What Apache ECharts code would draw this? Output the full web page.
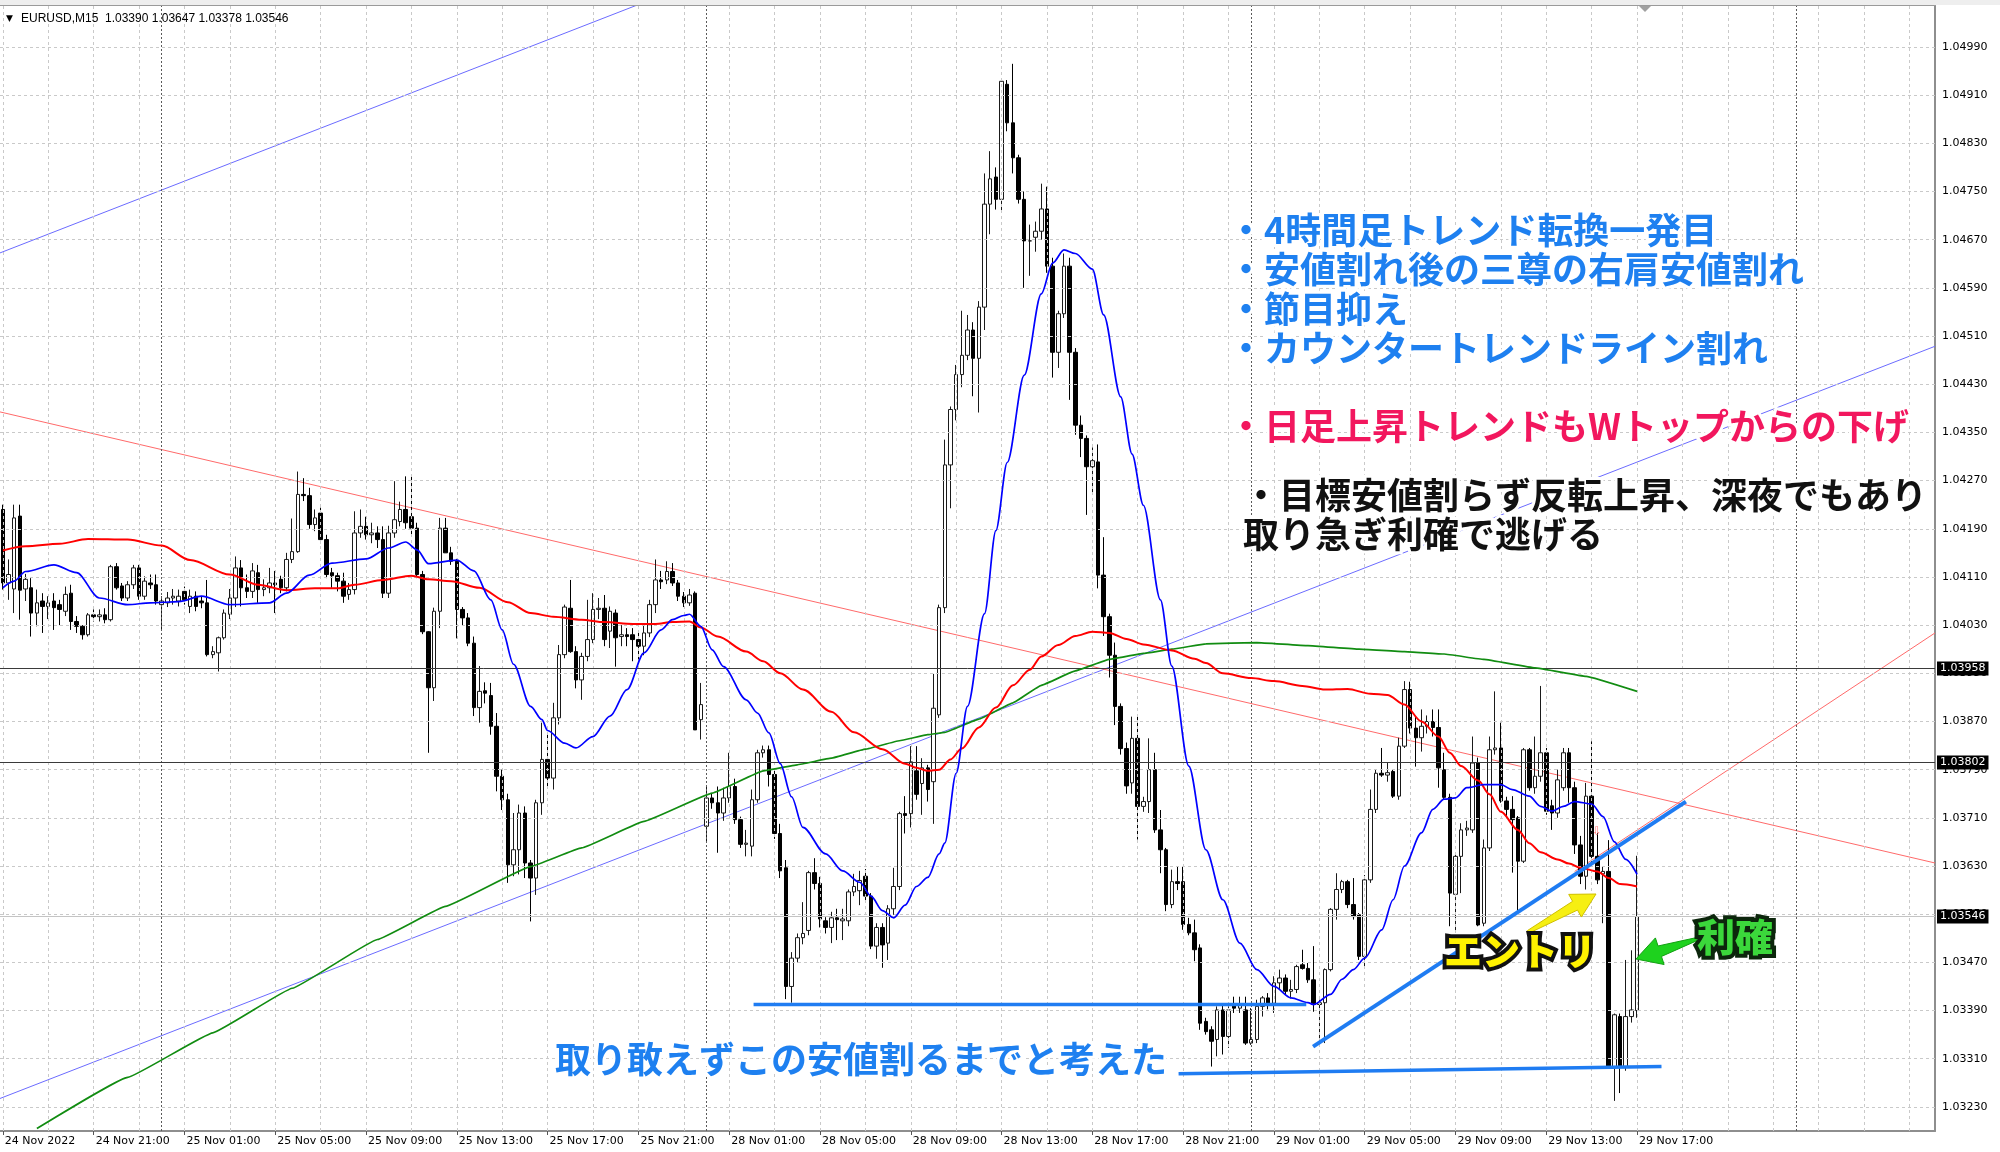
<!DOCTYPE html>
<html><head><meta charset="utf-8">
<script src="https://cdn.jsdelivr.net/npm/echarts@6/dist/echarts.min.js"></script>
<style>html,body{margin:0;padding:0;background:#fff;}#c{width:2000px;height:1152px;}</style>
</head><body><div id="c"></div>
<script>
const symbolName = 'EURUSD,M15';

const openP = [
1.04222,1.04100,1.04090,1.04211,1.04090,1.04092,1.04050,1.04070,1.04061,1.04070,
1.04064,1.04053,1.04083,1.04036,1.04028,1.04014,1.04047,1.04044,1.04047,1.04039,
1.04127,1.04095,1.04075,1.04097,1.04125,1.04078,1.04100,1.04097,1.04064,1.04067,
1.04075,1.04070,1.04086,1.04061,1.04078,1.04070,1.04067,1.03981,1.03984,1.04009,
1.04048,1.04075,1.04125,1.04092,1.04086,1.04117,1.04089,1.04092,1.04100,1.04106,
1.04092,1.04139,1.04152,1.04247,1.04245,1.04197,1.04216,1.04172,1.04117,1.04112,
1.04103,1.04081,1.04089,1.04183,1.04194,1.04180,1.04183,1.04172,1.04083,1.04183,
1.04202,1.04222,1.04210,1.04191,1.04114,1.04019,1.03926,1.04053,1.04191,1.04150,
1.04136,1.04056,1.04042,1.04000,1.03893,1.03921,1.03913,1.03862,1.03779,1.03740,
1.03632,1.03657,1.03718,1.03635,1.03610,1.03735,1.03807,1.03776,1.03876,1.03981,
1.04058,1.03986,1.03939,1.03978,1.04006,1.04056,1.04058,1.04020,1.04050,1.04011,
1.04014,1.04014,1.04006,1.03995,1.04017,1.04064,1.04105,1.04105,1.04119,1.04100,
1.04078,1.04067,1.04083,1.03873,1.03696,1.03743,1.03735,1.03718,1.03743,1.03762,
1.03707,1.03666,1.03663,1.03740,1.03818,1.03823,1.03782,1.03684,1.03627,1.03430,
1.03477,1.03511,1.03523,1.03619,1.03601,1.03539,1.03528,1.03544,1.03539,1.03539,
1.03587,1.03589,1.03613,1.03580,1.03497,1.03528,1.03502,1.03559,1.03596,1.03717,
1.03717,1.03788,1.03767,1.03793,1.03770,1.03881,1.04059,1.04296,1.04388,1.04446,
1.04478,1.04520,1.04473,1.04558,1.04729,1.04774,1.04737,1.04928,1.04864,1.04806,
1.04737,1.04668,1.04674,1.04684,1.04721,1.04626,1.04483,1.04547,1.04626,1.04483,
1.04362,1.04340,1.04293,1.04301,1.04113,1.04044,1.03980,1.03895,1.03825,1.03768,
1.03842,1.03729,1.03737,1.03790,1.03690,1.03657,1.03566,1.03604,1.03604,1.03533,
1.03519,1.03494,1.03372,1.03358,1.03342,1.03391,1.03347,1.03399,1.03394,1.03391,
1.03336,1.03342,1.03397,1.03411,1.03402,1.03436,1.03444,1.03422,1.03425,1.03466,
1.03460,1.03441,1.03400,1.03403,1.03458,1.03558,1.03591,1.03604,1.03566,1.03549,
1.03480,1.03607,1.03724,1.03784,1.03781,1.03787,1.03746,1.03829,1.03923,1.03859,
1.03843,1.03862,1.03870,1.03860,1.03790,1.03744,1.03583,1.03646,1.03690,1.03690,
1.03801,1.03535,1.03660,1.03823,1.03826,1.03738,1.03724,1.03710,1.03638,1.03823,
1.03760,1.03779,1.03818,1.03730,1.03718,1.03760,1.03818,1.03760,1.03665,1.03613,
1.03746,1.03646,1.03617,1.03621,1.03297,1.03380,1.03297,1.03380,1.03390];

const highP = [
1.04230,1.04139,1.04230,1.04230,1.04115,1.04108,1.04089,1.04083,1.04078,1.04083,
1.04072,1.04094,1.04097,1.04045,1.04030,1.04050,1.04056,1.04056,1.04058,1.04130,
1.04133,1.04100,1.04103,1.04130,1.04130,1.04111,1.04114,1.04114,1.04078,1.04085,
1.04090,1.04089,1.04094,1.04089,1.04086,1.04078,1.04105,1.03995,1.04011,1.04056,
1.04090,1.04144,1.04138,1.04114,1.04133,1.04130,1.04106,1.04125,1.04120,1.04112,
1.04150,1.04207,1.04285,1.04274,1.04258,1.04222,1.04225,1.04180,1.04125,1.04117,
1.04117,1.04100,1.04219,1.04222,1.04210,1.04200,1.04194,1.04194,1.04195,1.04269,
1.04235,1.04277,1.04277,1.04200,1.04120,1.04020,1.04059,1.04208,1.04208,1.04160,
1.04140,1.04060,1.04050,1.04011,1.03962,1.03935,1.03934,1.03884,1.03790,1.03750,
1.03718,1.03732,1.03729,1.03640,1.03740,1.03868,1.03851,1.03901,1.03997,1.04064,
1.04105,1.03995,1.03984,1.04072,1.04083,1.04075,1.04080,1.04061,1.04056,1.04030,
1.04025,1.04025,1.04017,1.04030,1.04072,1.04139,1.04120,1.04136,1.04133,1.04105,
1.04085,1.04090,1.04086,1.03934,1.03762,1.03750,1.03762,1.03760,1.03818,1.03775,
1.03712,1.03690,1.03757,1.03823,1.03830,1.03830,1.03790,1.03700,1.03640,1.03487,
1.03518,1.03570,1.03622,1.03643,1.03612,1.03545,1.03554,1.03559,1.03559,1.03591,
1.03617,1.03622,1.03625,1.03585,1.03535,1.03535,1.03565,1.03627,1.03720,1.03746,
1.03829,1.03829,1.03809,1.03798,1.03949,1.04064,1.04338,1.04393,1.04462,1.04552,
1.04545,1.04533,1.04568,1.04780,1.04817,1.04790,1.04938,1.04935,1.04962,1.04811,
1.04750,1.04695,1.04700,1.04763,1.04758,1.04640,1.04552,1.04647,1.04640,1.04490,
1.04378,1.04345,1.04325,1.04330,1.04176,1.04049,1.04001,1.03900,1.03835,1.03878,
1.03878,1.03745,1.03842,1.03818,1.03723,1.03660,1.03624,1.03629,1.03629,1.03544,
1.03541,1.03500,1.03378,1.03364,1.03397,1.03402,1.03397,1.03413,1.03413,1.03413,
1.03394,1.03408,1.03414,1.03419,1.03447,1.03458,1.03450,1.03441,1.03466,1.03491,
1.03469,1.03497,1.03408,1.03460,1.03560,1.03618,1.03607,1.03607,1.03610,1.03552,
1.03615,1.03757,1.03790,1.03826,1.03801,1.03790,1.03843,1.03937,1.03936,1.03879,
1.03890,1.03880,1.03890,1.03890,1.03818,1.03750,1.03652,1.03701,1.03705,1.03845,
1.03810,1.03674,1.03845,1.03920,1.03868,1.03745,1.03746,1.03713,1.03826,1.03826,
1.03845,1.03929,1.03826,1.03740,1.03790,1.03826,1.03826,1.03770,1.03680,1.03768,
1.03837,1.03685,1.03630,1.03673,1.03385,1.03385,1.03474,1.03490,1.03647];

const lowP = [
1.04089,1.04072,1.04050,1.04039,1.04070,1.04011,1.04028,1.04017,1.04040,1.04022,
1.04030,1.04045,1.04022,1.04017,1.04006,1.04011,1.04036,1.04036,1.04033,1.04036,
1.04089,1.04070,1.04070,1.04090,1.04072,1.04072,1.04090,1.04064,1.04022,1.04060,
1.04064,1.04061,1.04064,1.04050,1.04053,1.04058,1.03978,1.03975,1.03953,1.04006,
1.04040,1.04060,1.04061,1.04075,1.04075,1.04067,1.04078,1.04083,1.04050,1.04083,
1.04086,1.04133,1.04150,1.04236,1.04190,1.04186,1.04166,1.04108,1.04092,1.04086,
1.04067,1.04072,1.04081,1.04175,1.04172,1.04166,1.04158,1.04075,1.04075,1.04175,
1.04194,1.04190,1.04180,1.04108,1.04015,1.03818,1.03904,1.04025,1.04150,1.04130,
1.04008,1.04030,1.03995,1.03879,1.03868,1.03900,1.03848,1.03754,1.03723,1.03602,
1.03613,1.03616,1.03610,1.03538,1.03582,1.03715,1.03762,1.03757,1.03865,1.03975,
1.03984,1.03925,1.03906,1.03970,1.04000,1.04040,1.03995,1.03992,1.03961,1.03995,
1.03995,1.03970,1.03973,1.03980,1.04010,1.04050,1.04090,1.04098,1.04095,1.04070,
1.04060,1.04062,1.03856,1.03840,1.03670,1.03725,1.03652,1.03705,1.03735,1.03700,
1.03660,1.03646,1.03646,1.03735,1.03810,1.03762,1.03675,1.03610,1.03409,1.03403,
1.03470,1.03500,1.03515,1.03591,1.03528,1.03518,1.03502,1.03507,1.03507,1.03530,
1.03580,1.03565,1.03570,1.03492,1.03476,1.03461,1.03474,1.03549,1.03590,1.03684,
1.03694,1.03740,1.03715,1.03737,1.03700,1.03876,1.04050,1.04224,1.04370,1.04425,
1.04470,1.04410,1.04383,1.04520,1.04679,1.04720,1.04716,1.04850,1.04780,1.04730,
1.04590,1.04610,1.04650,1.04670,1.04615,1.04441,1.04457,1.04540,1.04404,1.04346,
1.04309,1.04213,1.04250,1.04091,1.04012,1.03943,1.03864,1.03815,1.03750,1.03750,
1.03674,1.03720,1.03718,1.03685,1.03618,1.03555,1.03560,1.03590,1.03524,1.03515,
1.03472,1.03358,1.03350,1.03297,1.03314,1.03317,1.03328,1.03386,1.03386,1.03333,
1.03333,1.03336,1.03380,1.03392,1.03386,1.03425,1.03416,1.03410,1.03419,1.03458,
1.03436,1.03388,1.03331,1.03336,1.03455,1.03541,1.03585,1.03560,1.03541,1.03474,
1.03463,1.03602,1.03718,1.03778,1.03770,1.03743,1.03740,1.03826,1.03850,1.03795,
1.03820,1.03850,1.03845,1.03760,1.03740,1.03530,1.03519,1.03585,1.03680,1.03685,
1.03530,1.03530,1.03655,1.03815,1.03735,1.03710,1.03619,1.03552,1.03635,1.03755,
1.03750,1.03770,1.03715,1.03690,1.03710,1.03755,1.03735,1.03650,1.03600,1.03591,
1.03635,1.03600,1.03535,1.03297,1.03240,1.03253,1.03290,1.03370,1.03378];

const closeP = [
1.04100,1.04114,1.04208,1.04088,1.04106,1.04050,1.04067,1.04061,1.04067,1.04059,
1.04056,1.04081,1.04036,1.04028,1.04014,1.04047,1.04044,1.04047,1.04039,1.04127,
1.04092,1.04075,1.04097,1.04125,1.04078,1.04103,1.04097,1.04070,1.04070,1.04075,
1.04078,1.04078,1.04072,1.04078,1.04061,1.04067,1.03981,1.03986,1.04009,1.04050,
1.04075,1.04125,1.04092,1.04086,1.04120,1.04089,1.04092,1.04100,1.04097,1.04092,
1.04139,1.04152,1.04247,1.04245,1.04197,1.04208,1.04172,1.04114,1.04112,1.04103,
1.04078,1.04089,1.04183,1.04194,1.04180,1.04183,1.04172,1.04083,1.04183,1.04205,
1.04222,1.04200,1.04191,1.04114,1.04019,1.03926,1.04053,1.04191,1.04150,1.04136,
1.04056,1.04042,1.04000,1.03893,1.03920,1.03917,1.03862,1.03779,1.03740,1.03632,
1.03657,1.03718,1.03635,1.03610,1.03735,1.03807,1.03776,1.03876,1.03981,1.04060,
1.03986,1.03939,1.03978,1.04006,1.04056,1.04058,1.04006,1.04053,1.04009,1.04014,
1.04011,1.04006,1.03995,1.04017,1.04064,1.04105,1.04102,1.04119,1.04100,1.04078,
1.04067,1.04080,1.03856,1.03898,1.03743,1.03735,1.03718,1.03743,1.03762,1.03707,
1.03666,1.03668,1.03740,1.03818,1.03823,1.03782,1.03684,1.03622,1.03430,1.03477,
1.03511,1.03518,1.03619,1.03601,1.03542,1.03528,1.03544,1.03541,1.03542,1.03587,
1.03596,1.03606,1.03580,1.03497,1.03528,1.03499,1.03559,1.03596,1.03717,1.03714,
1.03803,1.03749,1.03793,1.03757,1.03892,1.04059,1.04296,1.04388,1.04446,1.04478,
1.04520,1.04473,1.04558,1.04729,1.04771,1.04737,1.04933,1.04864,1.04806,1.04737,
1.04668,1.04668,1.04684,1.04721,1.04626,1.04483,1.04547,1.04626,1.04483,1.04362,
1.04340,1.04293,1.04303,1.04113,1.04044,1.03980,1.03895,1.03825,1.03763,1.03842,
1.03729,1.03737,1.03790,1.03690,1.03657,1.03566,1.03604,1.03601,1.03533,1.03519,
1.03491,1.03369,1.03355,1.03339,1.03391,1.03347,1.03391,1.03394,1.03400,1.03336,
1.03342,1.03397,1.03411,1.03402,1.03436,1.03444,1.03422,1.03425,1.03463,1.03460,
1.03441,1.03400,1.03403,1.03458,1.03558,1.03591,1.03604,1.03566,1.03546,1.03480,
1.03607,1.03724,1.03784,1.03781,1.03785,1.03746,1.03829,1.03923,1.03859,1.03843,
1.03862,1.03870,1.03860,1.03793,1.03744,1.03585,1.03646,1.03690,1.03693,1.03801,
1.03532,1.03660,1.03823,1.03826,1.03738,1.03724,1.03707,1.03638,1.03823,1.03760,
1.03779,1.03818,1.03721,1.03718,1.03773,1.03818,1.03760,1.03665,1.03613,1.03746,
1.03646,1.03607,1.03621,1.03297,1.03383,1.03297,1.03380,1.03391,1.03546];

const tickLabels = ['24 Nov 2022','24 Nov 21:00','25 Nov 01:00','25 Nov 05:00','25 Nov 09:00','25 Nov 13:00','25 Nov 17:00','25 Nov 21:00','28 Nov 01:00','28 Nov 05:00','28 Nov 09:00','28 Nov 13:00','28 Nov 17:00','28 Nov 21:00','29 Nov 01:00','29 Nov 05:00','29 Nov 09:00','29 Nov 13:00','29 Nov 17:00'];
const priceLevels = [1.03230,1.03310,1.03390,1.03470,1.03550,1.03630,1.03710,1.03790,1.03870,1.03950,1.04030,1.04110,1.04190,1.04270,1.04350,1.04430,1.04510,1.04590,1.04670,1.04750,1.04830,1.04910,1.04990];
const daySeparators = [28,124,220,316];

const blueMA_i = [0,2,4,9,13,17,22,26,31,35,40,47,50,54,58,64,68,71,73,75,80,83,86,88,90,93,95,96,99,101,104,107,110,113,116,118,120,121,123,125,127,131,133,135,137,139,141,145,148,151,153,155,157,159,161,163,165,166,168,170,173,175,177,180,183,185,187,189,192,194,197,199,201,204,206,209,212,215,218,221,224,227,230,231,234,236,238,240,243,245,247,250,252,254,256,258,261,264,266,269,271,273,275,277,280,282,284,286,288];
const blueMA_v = [1.04092,1.04103,1.04119,1.04130,1.04117,1.04075,1.04064,1.04067,1.04069,1.04078,1.04064,1.04067,1.04083,1.04113,1.04133,1.04140,1.04158,1.04168,1.04155,1.04132,1.04138,1.04120,1.04072,1.04022,1.03965,1.03895,1.03873,1.03855,1.03834,1.03826,1.03845,1.03879,1.03923,1.03984,1.04022,1.04039,1.04046,1.04048,1.04028,1.03989,1.03961,1.03906,1.03884,1.03851,1.03800,1.03745,1.03694,1.03650,1.03622,1.03603,1.03580,1.03556,1.03544,1.03565,1.03596,1.03611,1.03650,1.03668,1.03784,1.03895,1.04049,1.04187,1.04300,1.04445,1.04580,1.04631,1.04653,1.04647,1.04621,1.04545,1.04409,1.04314,1.04229,1.04072,1.03962,1.03796,1.03657,1.03574,1.03502,1.03458,1.03430,1.03411,1.03403,1.03400,1.03417,1.03442,1.03458,1.03477,1.03524,1.03574,1.03630,1.03685,1.03724,1.03741,1.03743,1.03760,1.03765,1.03765,1.03757,1.03746,1.03729,1.03721,1.03729,1.03737,1.03733,1.03712,1.03670,1.03641,1.03616];

const redMA_i = [0,4,10,15,22,28,33,40,45,50,55,59,62,67,72,75,79,84,89,93,97,102,106,111,115,118,121,123,126,131,134,137,141,146,150,155,159,161,163,165,167,169,172,175,178,181,183,186,189,192,195,198,201,206,210,212,215,220,224,229,233,237,241,244,247,250,253,255,257,260,262,264,267,269,271,274,276,278,281,283,285,288];
const redMA_v = [1.04154,1.04161,1.04165,1.04173,1.04172,1.04162,1.04138,1.04114,1.04097,1.04088,1.04091,1.04091,1.04097,1.04105,1.04112,1.04106,1.04103,1.04092,1.04068,1.04050,1.04044,1.04039,1.04035,1.04032,1.04032,1.04035,1.04036,1.04026,1.04011,1.03986,1.03970,1.03950,1.03923,1.03886,1.03852,1.03824,1.03800,1.03793,1.03788,1.03790,1.03807,1.03825,1.03860,1.03893,1.03930,1.03956,1.03978,1.03997,1.04012,1.04019,1.04017,1.04007,1.03998,1.03988,1.03974,1.03967,1.03950,1.03942,1.03937,1.03929,1.03923,1.03924,1.03916,1.03914,1.03898,1.03870,1.03845,1.03818,1.03796,1.03772,1.03749,1.03720,1.03690,1.03668,1.03653,1.03641,1.03634,1.03627,1.03621,1.03610,1.03600,1.03596];

const greenMA_i = [6,22,37,51,66,78,93,102,113,125,134,140,146,152,158,163,166,172,178,183,189,195,201,206,212,221,230,239,247,254,261,270,279,288];
const greenMA_v = [1.03194,1.03279,1.03353,1.03427,1.03508,1.03563,1.03629,1.03660,1.03704,1.03751,1.03788,1.03798,1.03809,1.03824,1.03838,1.03848,1.03852,1.03874,1.03901,1.03930,1.03954,1.03973,1.03983,1.03990,1.03999,1.04001,1.03996,1.03990,1.03986,1.03982,1.03973,1.03959,1.03945,1.03920];

// trend lines: [barIndex, price] end points
const blueChannelLow = [[-0.5,1.03244],[340.5,1.04493]];
const blueChannelHigh = [[-0.5,1.04648],[140,1.05163]];
const redTrendDown = [[-0.5,1.04384],[340.5,1.03635]];
const redTrendUp = [[277,1.03621],[340.5,1.04017]];
const supportLine = [[132.3,1.03400],[229.7,1.03400]];
const targetLine = [[207.2,1.03285],[292.3,1.03297]];
const risingLine = [[230.9,1.03330],[296.6,1.03737]];
const blackLevels = [1.03958,1.03802];
const bidPrice = 1.03546;

const blueNotes = ['・4時間足トレンド転換一発目','・安値割れ後の三尊の右肩安値割れ','・節目抑え','・カウンタートレンドライン割れ'];
const pinkNote = '・日足上昇トレンドもWトップからの下げ';
const blackNotes = ['・目標安値割らず反転上昇、深夜でもあり','取り急ぎ利確で逃げる'];
const bottomNote = '取り敢えずこの安値割るまでと考えた';
const entryLabel = 'エントリ';
const profitLabel = '利確';

// ---------------------------------------------------------------
const NSLOT = 341;
const Y_MIN = 1.03190, Y_MAX = 1.05058;
const cats = Array.from({length: NSLOT}, (_, i) => String(i));
const candleData = openP.map((o, i) => [o, closeP[i], lowP[i], highP[i]]);
const pair = (xs, vs) => xs.map((x, k) => [x, vs[k]]);

const gridMarks = [];
priceLevels.forEach(v => gridMarks.push({yAxis: v, label: {show: true, position: 'end', distance: 7, formatter: v.toFixed(5), color: '#000', fontFamily: 'DejaVu Sans', fontSize: 11}}));
for (let i = 0; i <= 340; i += 8) gridMarks.push({xAxis: i});
daySeparators.forEach(i => gridMarks.push({xAxis: i, lineStyle: {color: '#5a5a5a', type: [2, 2], width: 1}}));

const boxLabel = (txt) => ({show: true, position: 'end', distance: 2, formatter: txt, color: '#fff', backgroundColor: '#000', padding: [2, 3, 1, 3], fontFamily: 'DejaVu Sans', fontSize: 11});
const levelMarks = blackLevels.map(v => ({yAxis: v, lineStyle: {color: '#3a3a3a', width: 1, type: 'solid'}, label: boxLabel(v.toFixed(5))}));
levelMarks.push({yAxis: bidPrice, lineStyle: {color: '#c4c4c4', width: 1, type: 'solid'}, label: boxLabel(bidPrice.toFixed(5))});

function lineSeries(data, color, width, z, smooth) {
  return {type: 'line', xAxisIndex: 1, yAxisIndex: 0, data, symbol: 'none', showSymbol: false, silent: true, z,
    smooth: smooth || false, smoothMonotone: 'x', lineStyle: {color, width}, animation: false};
}

const option = {
  animation: false,
  backgroundColor: '#ffffff',
  grid: {left: 0, right: 65, top: 6, bottom: 21},
  xAxis: [
    {type: 'category', data: cats, boundaryGap: true,
      axisLine: {show: true, onZero: false, lineStyle: {color: '#8e8e8e', width: 2}},
      axisTick: {show: true, alignWithLabel: true, interval: (i) => i % 16 === 0 && i <= 288, length: 4, lineStyle: {color: '#555'}},
      axisLabel: {show: true, interval: (i) => i % 16 === 0 && i <= 288, formatter: (v) => tickLabels[Number(v) / 16] || '',
        align: 'left', margin: 5, padding: [0, 0, 0, 2], fontFamily: 'DejaVu Sans', fontSize: 11, color: '#000'},
      splitLine: {show: false}},
    {type: 'value', min: -0.5, max: 340.5, show: false}
  ],
  yAxis: {type: 'value', min: Y_MIN, max: Y_MAX, position: 'right',
    axisLine: {show: true, onZero: false, lineStyle: {color: '#8e8e8e', width: 2}},
    axisTick: {show: false}, axisLabel: {show: false}, splitLine: {show: false}},
  series: [
    {type: 'line', xAxisIndex: 1, data: [[-0.5, Y_MIN]], symbol: 'none', lineStyle: {width: 0}, z: 1, silent: true,
      markLine: {silent: true, precision: 5, symbol: ['none', 'none'], animation: false, emphasis: {disabled: true},
        label: {show: false}, lineStyle: {color: '#c9c9c9', type: [3, 3], width: 1}, data: gridMarks}},
    {type: 'line', xAxisIndex: 1, data: [[-0.5, Y_MIN]], symbol: 'none', lineStyle: {width: 0}, z: 2, silent: true,
      markLine: {silent: true, precision: 5, symbol: ['none', 'none'], animation: false, emphasis: {disabled: true}, data: levelMarks}},
    lineSeries(blueChannelLow, '#6b6bff', 1, 3),
    lineSeries(blueChannelHigh, '#6b6bff', 1, 3),
    lineSeries(redTrendDown, '#ff6a6a', 1, 3),
    lineSeries(redTrendUp, '#ff6a6a', 1, 3),
    {type: 'candlestick', xAxisIndex: 0, yAxisIndex: 0, data: candleData, barWidth: 4, z: 4, silent: true,
      itemStyle: {color: '#ffffff', color0: '#000000', borderColor: '#1a1a1a', borderColor0: '#000000', borderWidth: 1}},
    lineSeries(pair(greenMA_i, greenMA_v), '#118c11', 1.7, 5, 0.08),
    lineSeries(pair(redMA_i, redMA_v), '#ff0000', 2, 5, 0.3),
    lineSeries(pair(blueMA_i, blueMA_v), '#0000ff', 1.7, 5, 0.3),
    lineSeries(supportLine, '#1f7cf2', 3.5, 6),
    lineSeries(targetLine, '#1f7cf2', 3.5, 6),
    lineSeries(risingLine, '#1f7cf2', 4, 6)
  ]
};

const chart = echarts.init(document.getElementById('c'), null, {width: 2000, height: 1152});
chart.setOption(option);

function arrowPts(tx, ty, px, py, wt, ws, hl, hw) {
  const dx = px - tx, dy = py - ty, L = Math.hypot(dx, dy), ux = dx / L, uy = dy / L, nx = -uy, ny = ux;
  const bx = px - ux * hl, by = py - uy * hl;
  return [[tx + nx * wt / 2, ty + ny * wt / 2], [bx + nx * ws / 2, by + ny * ws / 2], [bx + nx * hw / 2, by + ny * hw / 2], [px, py],
    [bx - nx * hw / 2, by - ny * hw / 2], [bx - nx * ws / 2, by - ny * ws / 2], [tx - nx * wt / 2, ty - ny * wt / 2]];
}
const JP = '"Noto Sans CJK JP", "Noto Sans CJK SC", sans-serif';
function txt(x, y, text, font, fill, stroke, lw, extra) {
  return Object.assign({type: 'text', x, y, z: 100, silent: true,
    style: Object.assign({text, font, fill, stroke, lineWidth: lw, align: 'left', verticalAlign: 'middle',
      textAlign: 'left', textVerticalAlign: 'middle'}, extra || {})});
}
const glow = {shadowColor: 'rgba(0,0,0,0.35)', shadowBlur: 5, shadowOffsetX: 1, shadowOffsetY: 1};
const last = openP.length - 1;
const headerText = symbolName + '  ' + openP[last].toFixed(5) + ' ' + highP[last].toFixed(5) + ' ' + lowP[last].toFixed(5) + ' ' + closeP[last].toFixed(5);

const g = [
  {type: 'rect', z: 90, silent: true, shape: {x: 0, y: 0, width: 2000, height: 5}, style: {fill: '#eeeeee'}},
  {type: 'line', z: 91, silent: true, shape: {x1: 0, y1: 5.5, x2: 1936, y2: 5.5}, style: {stroke: '#9a9a9a', lineWidth: 1}},
  {type: 'polygon', z: 91, silent: true, shape: {points: [[1639, 6], [1651, 6], [1645, 12]]}, style: {fill: '#a0a0a0'}},
  txt(6, 19, '▼', '9px "DejaVu Sans"', '#000', null, 0),
  txt(21, 19, headerText, '12px "Liberation Sans"', '#000', null, 0),
];
const BLUE = '#1e80f0';
blueNotes.forEach((t, k) => g.push(txt(1228, 230 + k * 39.5, t, 'bold 36px ' + JP, BLUE, '#ffffff', 6, glow)));
g.push(txt(1228, 426, pinkNote, 'bold 36px ' + JP, '#f2175e', '#ffffff', 6, glow));
g.push(txt(1243, 495, blackNotes[0], 'bold 36px ' + JP, '#111111', '#ffffff', 6, glow));
g.push(txt(1243, 534, blackNotes[1], 'bold 36px ' + JP, '#111111', '#ffffff', 6, glow));
g.push(txt(555, 1059, bottomNote, 'bold 36px ' + JP, BLUE, '#ffffff', 6, glow));
g.push({type: 'polygon', z: 99, silent: true, shape: {points: arrowPts(1528, 932, 1596, 894, 3, 10, 24, 26)}, style: {fill: '#f6ef12', stroke: '#d0c000', lineWidth: 1}});
g.push({type: 'polygon', z: 99, silent: true, shape: {points: arrowPts(1697, 939, 1636, 959, 3, 11, 25, 28)}, style: {fill: '#1ed21e', stroke: '#12a012', lineWidth: 1}});
g.push(txt(1444, 951, entryLabel, '900 38px ' + JP, '#fff200', '#111111', 8, {shadowColor: 'rgba(0,0,0,0.5)', shadowBlur: 6}));
g.push(txt(1697, 937, profitLabel, '900 38px ' + JP, '#3bd83b', '#0c260c', 8, {shadowColor: 'rgba(0,0,0,0.5)', shadowBlur: 6}));
g.push(txt(1592, 832, '⇩', '12px "DejaVu Sans"', '#ff7b7b', null, 0));
chart.setOption({graphic: {elements: g}});
</script>
</body></html>
